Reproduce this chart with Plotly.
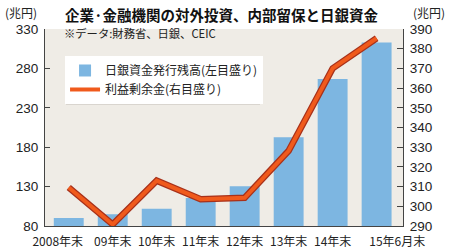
import plotly.graph_objects as go

categories = ["2008年末", "09年末", "10年末", "11年末", "12年末", "13年末", "14年末", "15年6月末"]
boj_money = [90, 95, 102, 115.5, 130.5, 192.5, 266.5, 313]          # 左目盛り (兆円)
retained = [309.5, 290.8, 313, 303.6, 304.3, 328.2, 370, 385.3]      # 右目盛り (兆円)

xpos = list(range(len(categories)))
tick_offsets = [-0.25, 0, 0, 0, 0, 0, 0, 0.47]
tickvals = [p + o for p, o in zip(xpos, tick_offsets)]

FONT = "Noto Sans CJK JP, Liberation Sans, Arial, sans-serif"
NUMFONT = "Liberation Sans, Arial, sans-serif"

fig = go.Figure()
fig.add_trace(go.Bar(
    x=xpos, y=boj_money, width=0.68, marker=dict(color="#7db6e1", line=dict(width=0)),
    name="日銀資金発行残高(左目盛り)", yaxis="y",
))
fig.add_trace(go.Scatter(
    x=xpos, y=retained, mode="lines", line=dict(color="#a8311a", width=6.5),
    showlegend=False, yaxis="y2", hoverinfo="skip",
))
fig.add_trace(go.Scatter(
    x=xpos, y=retained, mode="lines", line=dict(color="#f05a1c", width=4),
    name="利益剰余金(右目盛り)", yaxis="y2",
))

fig.update_layout(
    width=450, height=248,
    margin=dict(l=45, r=47, t=29, b=22),
    paper_bgcolor="white",
    plot_bgcolor="#efece6",
    font=dict(family=FONT, size=12, color="#222"),
    showlegend=True,
    bargap=0.3,
    xaxis=dict(
        range=[-0.54, 7.6], tickvals=tickvals, ticktext=categories,
        showgrid=False, zeroline=False, showline=True, linecolor="#444", linewidth=1,
        ticks="", tickfont=dict(family=FONT, size=12, color="#222"), ticklabelstandoff=5,
        automargin=False,
    ),
    yaxis=dict(
        range=[80, 330], dtick=50, tick0=80, showgrid=False, zeroline=False,
        showline=True, linecolor="#444", linewidth=1,
        ticks="inside", ticklen=5, tickcolor="#444",
        tickfont=dict(family=NUMFONT, size=13.5, color="#222"), ticklabelstandoff=3,
        automargin=False,
    ),
    yaxis2=dict(
        range=[290, 390], dtick=10, tick0=290, overlaying="y", side="right",
        showgrid=False, zeroline=False, showline=True, linecolor="#444", linewidth=1,
        ticks="inside", ticklen=6, tickcolor="#444",
        tickfont=dict(family=NUMFONT, size=13.5, color="#222"), ticklabelstandoff=3,
        automargin=False,
    ),
    legend=dict(
        x=0.056, y=0.863, xanchor="left", yanchor="top",
        bgcolor="white", borderwidth=0,
        font=dict(family=FONT, size=12, color="#222"),
        itemwidth=30, tracegroupgap=0,
    ),
)

# legend shadow
fig.add_shape(type="rect", xref="paper", yref="paper",
              x0=(66 - 45) / 358, x1=(260 - 45) / 358,
              y0=(226 - 105) / 197, y1=(226 - 57) / 197,
              fillcolor="#c9c6c0", line=dict(width=0), layer="below", opacity=0.6)

fig.add_annotation(text="<b>企業·金融機関の対外投資、内部留保と日銀資金</b>",
                   xref="paper", yref="paper", x=(63 - 45) / 358, y=(226 - 14) / 197,
                   xanchor="left", yanchor="middle", showarrow=False,
                   font=dict(family=FONT, size=14.5, color="#111"))
fig.add_annotation(text="※データ:財務省、日銀、CEIC",
                   xref="paper", yref="paper", x=(62 - 45) / 358, y=(226 - 33) / 197,
                   xanchor="left", yanchor="middle", showarrow=False,
                   font=dict(family=FONT, size=11.3, color="#222"))
fig.add_annotation(text="(兆円)", xref="paper", yref="paper",
                   x=(3 - 45) / 358, y=(226 - 13) / 197, xanchor="left", yanchor="middle",
                   showarrow=False, font=dict(family=FONT, size=12, color="#222"))
fig.add_annotation(text="(兆円)", xref="paper", yref="paper",
                   x=(447 - 45) / 358, y=(226 - 13) / 197, xanchor="right", yanchor="middle",
                   showarrow=False, font=dict(family=FONT, size=12, color="#222"))

fig.write_html("out.html")
